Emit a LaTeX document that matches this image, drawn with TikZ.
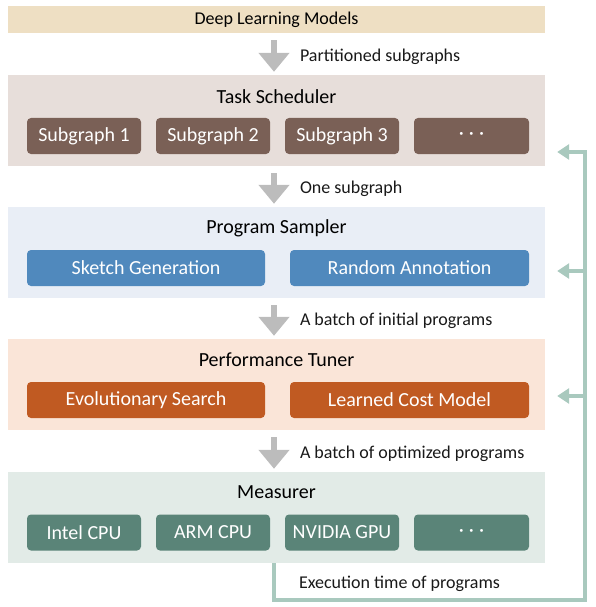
\documentclass[tikz,border=0pt]{standalone}
\usepackage{fontspec}
\setmainfont{Carlito}
\usetikzlibrary{arrows.meta, positioning}
\definecolor{topbg}{HTML}{EEDFC3}
\definecolor{schedbg}{HTML}{E7DEDA}
\definecolor{schedbox}{HTML}{7A6056}
\definecolor{samplebg}{HTML}{E9EEF6}
\definecolor{samplebox}{HTML}{5089BD}
\definecolor{tunebg}{HTML}{FAE5D8}
\definecolor{tunebox}{HTML}{C05A22}
\definecolor{measbg}{HTML}{E2EBE7}
\definecolor{measbox}{HTML}{5A8478}
\definecolor{fbline}{HTML}{A9C9BE}
\definecolor{flowgray}{HTML}{BCBCBC}
\tikzset{>=stealth}
\tikzset{
  panel/.style={rectangle, inner sep=0pt, minimum width=537pt, minimum height=91pt},
  paneltitle/.style={inner sep=0pt, font=\fontsize{20}{24}\selectfont, text=black},
  unit/.style={rectangle, rounded corners=4pt, inner sep=0pt, minimum height=36pt,
    text=white, font=\fontsize{20}{24}\selectfont},
  flow/.style={draw=flowgray, line width=6pt, -{Triangle[width=30pt,length=19pt]},
    shorten <=7pt, shorten >=3pt},
  flowlabel/.style={anchor=west, inner sep=0pt, xshift=23pt, yshift=-2.5pt, text=black!90,
    font=\fontsize{18}{22}\selectfont},
  feedback/.style={draw=fbline, line width=4pt, line join=miter},
  fbarrow/.style={draw=fbline, line width=4pt, -{Triangle[width=15pt,length=12pt]},
    shorten >=12pt}
}
\newcommand{\moredots}{\textperiodcentered\hspace{5pt}\textperiodcentered\hspace{5pt}\textperiodcentered}

\begin{document}
\begin{tikzpicture}[x=1pt, y=-1pt]
            \useasboundingbox (0,0) rectangle (595,607);
            % input models
            \node[panel, fill=topbg, minimum height=27pt] (top) at (276.5,19.5)
              {\fontsize{18}{22}\selectfont\raisebox{-1pt}{Deep Learning Models}};
            % task scheduler
            \node[panel, fill=schedbg] (sched) at (276.5,120.5) {};
            \node[paneltitle] (schedtitle) at (276.5,97) {Task Scheduler};
            \node[unit, fill=schedbox, minimum width=114pt] (sub1) at (84,136) {Subgraph 1};
            \node[unit, fill=schedbox, minimum width=114pt] (sub2) at (213,136) {Subgraph 2};
            \node[unit, fill=schedbox, minimum width=114pt] (sub3) at (342,136) {Subgraph 3};
            \node[unit, fill=schedbox, minimum width=115pt] (subdots) at (471.5,136) {\moredots};
            % program sampler
            \node[panel, fill=samplebg] (sampler) at (276.5,252.5) {};
            \node[paneltitle] (samplertitle) at (276.5,228) {Program Sampler};
            \node[unit, fill=samplebox, minimum width=238pt] (sketch) at (146,268) {Sketch Generation};
            \node[unit, fill=samplebox, minimum width=239pt] (annot) at (409.5,268) {Random Annotation};
            % performance tuner
            \node[panel, fill=tunebg] (tuner) at (276.5,384.5) {};
            \node[paneltitle] (tunertitle) at (276.5,360) {Performance Tuner};
            \node[unit, fill=tunebox, minimum width=238pt] (evol) at (146,400) {Evolutionary Search};
            \node[unit, fill=tunebox, minimum width=239pt] (cost) at (409.5,400) {Learned Cost Model};
            % measurer
            \node[panel, fill=measbg] (meas) at (276.5,517.5) {};
            \node[paneltitle] (meastitle) at (276.5,492) {Measurer};
            \node[unit, fill=measbox, minimum width=114pt] (intel) at (84,532.5) {Intel CPU};
            \node[unit, fill=measbox, minimum width=114pt] (arm) at (213,532.5) {ARM CPU};
            \node[unit, fill=measbox, minimum width=114pt] (nvidia) at (342,532.5) {NVIDIA GPU};
            \node[unit, fill=measbox, minimum width=115pt] (measdots) at (471.5,532.5) {\moredots};
            % data flow
            \draw[flow] ([xshift=-2.5pt]top.south) -- node[flowlabel]{Partitioned subgraphs} ([xshift=-2.5pt]sched.north);
            \draw[flow] ([xshift=-2.5pt]sched.south) -- node[flowlabel]{One subgraph} ([xshift=-2.5pt]sampler.north);
            \draw[flow] ([xshift=-2.5pt]sampler.south) -- node[flowlabel]{A batch of initial programs} ([xshift=-2.5pt]tuner.north);
            \draw[flow] ([xshift=-2.5pt]tuner.south) -- node[flowlabel]{A batch of optimized programs} ([xshift=-2.5pt]meas.north);
            % feedback loop
            \coordinate (fbcorner) at (585,600);
            \coordinate (fbtop) at (585,150);
            \coordinate (fb1) at (585,152);
            \coordinate (fb2) at (585,271);
            \coordinate (fb3) at (585,396);
            \draw[feedback] ([xshift=-2.5pt]meas.south) |- node[flowlabel, pos=0.25]{Execution time of programs} (fbcorner) -- (fbtop);
            \draw[fbarrow] (fb1) -- (fb1 -| sched.east);
            \draw[fbarrow] (fb2) -- (fb2 -| sampler.east);
            \draw[fbarrow] (fb3) -- (fb3 -| tuner.east);
\end{tikzpicture}
\end{document}
